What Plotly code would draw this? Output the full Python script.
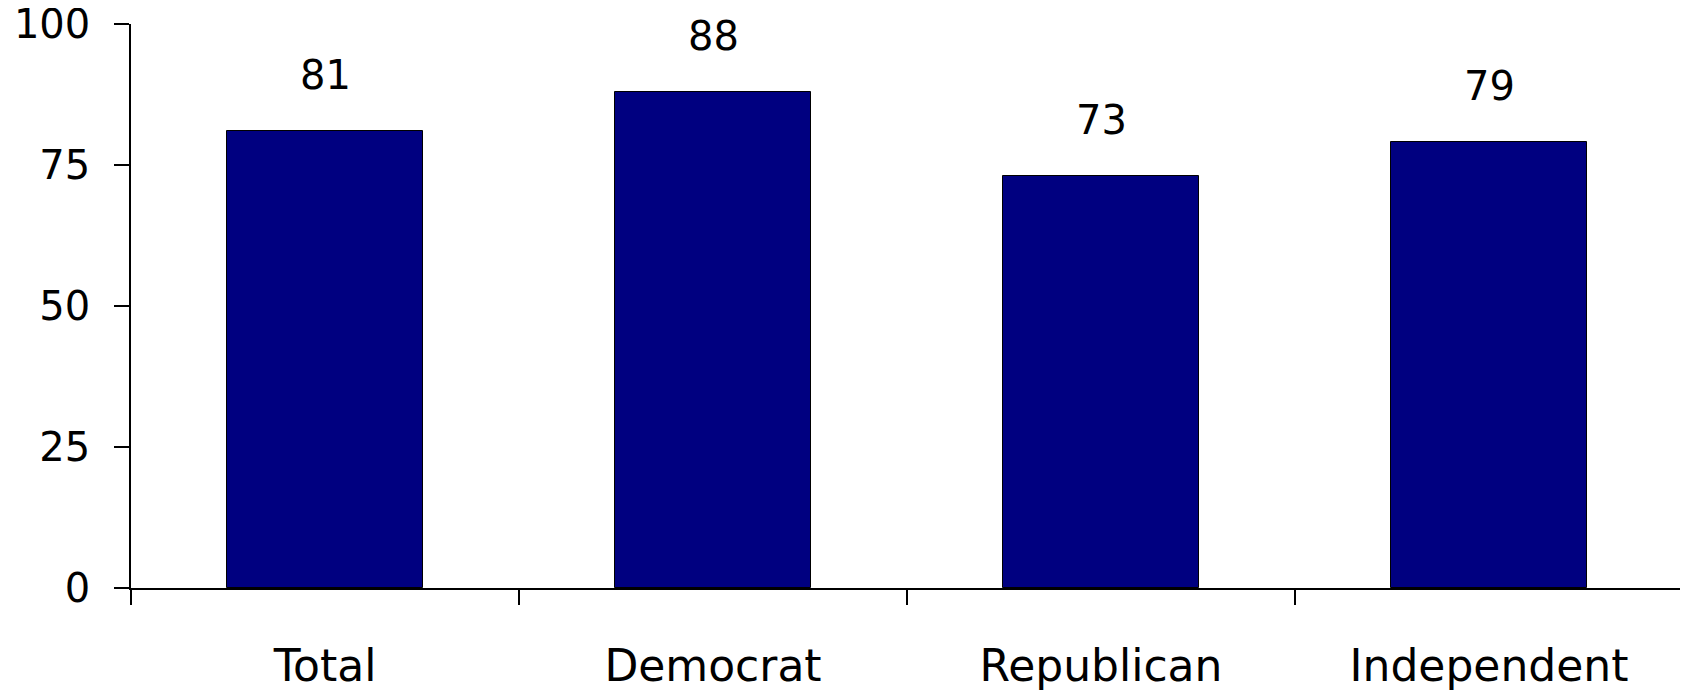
import plotly.graph_objects as go

categories = ["Total", "Democrat", "Republican", "Independent"]
values = [81, 88, 73, 79]
y_ticks = [0, 25, 50, 75, 100]

FONT = "DejaVu Sans"

fig = go.Figure()
fig.add_trace(go.Bar(
    x=categories, y=values, width=0.505,
    marker=dict(color="#000080", line=dict(color="black", width=1)),
    hoverinfo="skip",
))

for c, v in zip(categories, values):
    fig.add_annotation(x=c, y=v, text=str(v), showarrow=False,
                       yanchor="bottom", yshift=31,
                       font=dict(family=FONT, size=40, color="black"))

fig.update_layout(
    width=1680, height=683,
    margin=dict(l=123, r=5, t=16, b=103, autoexpand=False),
    paper_bgcolor="white", plot_bgcolor="white",
    showlegend=False,
    bargap=0,
)
fig.update_xaxes(
    type="category", range=[-0.5, 3.5], automargin=False,
    showline=True, linecolor="black", linewidth=1.5,
    ticks="outside", tickson="boundaries", ticklen=15, tickwidth=1.5, tickcolor="black",
    tickfont=dict(family=FONT, size=44, color="black"),
    ticklabelstandoff=38, showgrid=False, zeroline=False,
    ticklabeloverflow="allow",
)
fig.update_yaxes(
    range=[0, 100], tickvals=y_ticks, ticktext=[str(t) for t in y_ticks],
    automargin=False,
    showline=True, linecolor="black", linewidth=1.5,
    ticks="outside", ticklen=15, tickwidth=1.5, tickcolor="black",
    tickfont=dict(family=FONT, size=40, color="black"),
    ticklabelstandoff=16, showgrid=False, zeroline=False,
    ticklabeloverflow="allow",
)

fig.write_html("out.html")
